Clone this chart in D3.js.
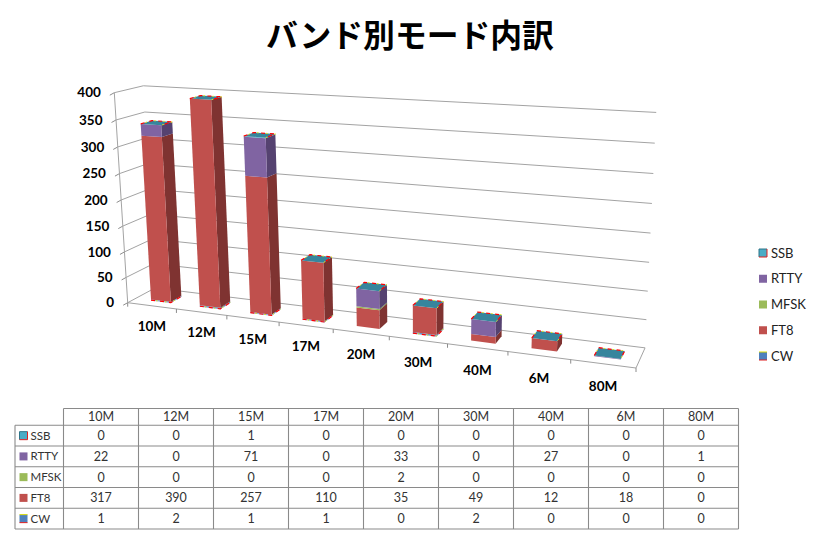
<!DOCTYPE html>
<html><head><meta charset="utf-8">
<script src="https://cdn.jsdelivr.net/npm/d3@7"></script>
<style>html,body{margin:0;padding:0;background:#fff}svg{display:block}text{font-family:Lato,"Noto Sans CJK JP",sans-serif}</style>
</head><body><svg id="c" width="818" height="544"></svg>
<script>
const titleText = "バンド別モード内訳";
const categories = ["10M","12M","15M","17M","20M","30M","40M","6M","80M"];
const seriesOrder = ["CW","FT8","MFSK","RTTY","SSB"];
const legendOrder = ["SSB","RTTY","MFSK","FT8","CW"];
const ssb  = [0,0,1,0,0,0,0,0,0];
const rtty = [22,0,71,0,33,0,27,0,1];
const mfsk = [0,0,0,0,2,0,0,0,0];
const ft8  = [317,390,257,110,35,49,12,18,0];
const cw   = [1,2,1,1,0,2,0,0,0];
const yTicks = [0,50,100,150,200,250,300,350,400];
const seriesValues = {SSB:ssb,RTTY:rtty,MFSK:mfsk,FT8:ft8,CW:cw};
const front = {SSB:"#4BACC6",RTTY:"#8064A2",MFSK:"#9BBB59",FT8:"#C0504D",CW:"#4F81BD"};
const side  = {SSB:"#2f7488",RTTY:"#554270",MFSK:"#6d8340",FT8:"#7F3331",CW:"#355a85"};
const topColor = "#37859d";

const svg = d3.select("#c");
const uScale = d3.scaleBand().domain(categories).range([0,1]);
const vScale = d3.scaleLinear().domain([0,400]).range([0,1]);

// perspective mapping of the chart box onto the page
const O=[127.7,302.7], U=[636,368], D=[155,288], V=[114.3,92.7];
const cu=-0.1516, cd=0.04, cv=-0.043;
const Au=[U[0]*(1+cu)-O[0],U[1]*(1+cu)-O[1]];
const Ad=[D[0]*(1+cd)-O[0],D[1]*(1+cd)-O[1]];
const Av=[V[0]*(1+cv)-O[0],V[1]*(1+cv)-O[1]];
function P(u,d,v){
  const w=1+cu*u+cd*d+cv*v;
  return [(O[0]+Au[0]*u+Ad[0]*d+Av[0]*v)/w,(O[1]+Au[1]*u+Ad[1]*d+Av[1]*v)/w];
}
const path=pts=>"M"+pts.map(p=>p[0].toFixed(2)+","+p[1].toFixed(2)).join("L")+"Z";
const lineP=(g,a,b,col,w)=>g.append("line").attr("x1",a[0]).attr("y1",a[1]).attr("x2",b[0]).attr("y2",b[1]).attr("stroke",col).attr("stroke-width",w||1);

// title
svg.append("text").attr("x",410).attr("y",47).attr("text-anchor","middle")
  .attr("font-size",31.8).attr("font-weight",700).attr("fill","#000")
  .style("font-family",'"Noto Sans CJK JP",sans-serif').text(titleText);

// walls and grid
const grid=svg.append("g");
const gc="#a3a3a3";
yTicks.forEach(t=>{
  const v=vScale(t);
  lineP(grid,P(0,0,v),P(0,1,v),gc);
  lineP(grid,P(0,1,v),P(1,1,v),gc);
  const a=P(0,0,v);
  lineP(grid,a,[a[0]-4.5,a[1]+2.5],"#8c8c8c");
  svg.append("text").attr("x",a[0]-13.5).attr("y",a[1]).attr("dy","0.35em")
    .attr("text-anchor","end").attr("font-size",13.5).attr("font-weight",700).attr("fill","#000").text(t);
});
lineP(grid,P(0,0,0),P(0,0,1),gc);
lineP(grid,P(0,0,0),P(1,0,0),gc);
lineP(grid,P(1,0,0),P(1,1,0),gc);
lineP(grid,P(0,0,0),[P(0,0,0)[0],P(0,0,0)[1]+4],"#8c8c8c");
categories.forEach((c,i)=>{
  const u=uScale(c)+uScale.bandwidth();
  const a=P(u,0,0);
  lineP(grid,a,[a[0],a[1]+4],"#8c8c8c");
  const m=P(uScale(c)+uScale.bandwidth()/2,0,0);
  svg.append("text").attr("x",m[0]).attr("y",m[1]+20+3*i/8).attr("dy","0.35em")
    .attr("text-anchor","middle").attr("font-size",13.5).attr("font-weight",700).attr("fill","#000").text(c);
});

// stacked bars
const rows=categories.map((c,i)=>{const r={cat:c};seriesOrder.forEach(s=>r[s]=seriesValues[s][i]);return r;});
const stacked=d3.stack().keys(seriesOrder)(rows);
const barFrac=0.41, d0=0.3, d1=0.7, uShift=0.002;
const bars=svg.append("g");
const edge=d3.line();
categories.forEach((c,i)=>{
  const uc=uScale(c)+uScale.bandwidth()/2+uShift, hw=uScale.bandwidth()*barFrac/2;
  const u0=uc-hw,u1=uc+hw;
  stacked.forEach(layer=>{
    const [a,b]=layer[i];
    if(b<=a) return;
    const v0=vScale(a),v1=vScale(b);
    bars.append("path").attr("d",path([P(u1,d0,v0),P(u1,d1,v0),P(u1,d1,v1),P(u1,d0,v1)])).attr("fill",side[layer.key]);
    bars.append("path").attr("d",path([P(u0,d0,v0),P(u1,d0,v0),P(u1,d0,v1),P(u0,d0,v1)])).attr("fill",front[layer.key]);
  });
  const tot=vScale(stacked[stacked.length-1][i][1]);
  const topF=[P(u0,d0,tot),P(u1,d0,tot),P(u1,d1,tot),P(u0,d1,tot)];
  // zero-height stack artefacts: broken coloured outlines at the top and the foot
  const backEdge=[P(u0,d0,tot),P(u0,d1,tot),P(u1,d1,tot),P(u1,d0,tot)];
  bars.append("path").attr("d",path(topF)).attr("fill",topColor);
  bars.append("path").attr("d",edge(backEdge)).attr("fill","none").attr("stroke","#ff0000").attr("stroke-width",1.2).attr("stroke-dasharray","4 5");
  bars.append("path").attr("d",edge(backEdge)).attr("fill","none").attr("stroke","#e8e800").attr("stroke-width",1).attr("stroke-dasharray","1.5 7.5").attr("stroke-dashoffset",-5);
  if(ft8[i]>0 && cw[i]>0){
    const foot=[P(u0,d0,0),P(u1,d0,0),P(u1,d1,0)];
    bars.append("path").attr("d",edge(foot)).attr("fill","none").attr("stroke","#8fb0e0").attr("stroke-width",1);
    bars.append("path").attr("d",edge(foot)).attr("fill","none").attr("stroke","#ff0000").attr("stroke-width",1.2).attr("stroke-dasharray","4 5");
    bars.append("path").attr("d",edge(foot)).attr("fill","none").attr("stroke","#e8e800").attr("stroke-width",1).attr("stroke-dasharray","1.5 7.5").attr("stroke-dashoffset",-5);
  }
});

// legend key helper
function key(g,x,y,s){
  g.append("rect").attr("x",x).attr("y",y-4).attr("width",8).attr("height",8).attr("fill",front[s]);
  if(s==="SSB"){
    g.append("path").attr("d",`M${x+8},${y-4}H${x}V${y+4}`).attr("fill","none").attr("stroke","#2f7488");
    g.append("path").attr("d",`M${x},${y+4}H${x+8}V${y-4}`).attr("fill","none").attr("stroke","#e02020");
  }
  if(s==="CW"){
    g.append("line").attr("x1",x).attr("x2",x+8).attr("y1",y-4).attr("y2",y-4).attr("stroke","#dcdc00");
    g.append("line").attr("x1",x).attr("x2",x+8).attr("y1",y+4).attr("y2",y+4).attr("stroke","#e02020");
  }
}

// legend
const legendY=d3.scalePoint().domain(legendOrder).range([253,356]);
const lg=svg.append("g");
legendOrder.forEach(s=>{
  key(lg,759,legendY(s),s);
  lg.append("text").attr("x",771).attr("y",legendY(s)).attr("dy","0.35em").attr("font-size",13).attr("fill","#222").text(s);
});

// data table
const colX=d3.scaleBand().domain(categories).range([63.5,738.5]);
const tb=svg.append("g");
const tc="#8a8a8a";
const yEdge=d3.scaleLinear().domain([0,5]).range([425.3,529]);
const cellY=r=>yEdge(r+0.5);
lineP(tb,[63.5,408.5],[738.5,408.5],tc,1.1);
d3.range(6).forEach(r=>lineP(tb,[15,yEdge(r)],[738.5,yEdge(r)],tc,1.1));
lineP(tb,[15,425.3],[15,529],tc,1.1);
d3.range(10).forEach(k=>{
  const x=63.5+k*colX.bandwidth();
  lineP(tb,[x,408.5],[x,529],tc,1.1);
});
categories.forEach(c=>{
  tb.append("text").attr("x",colX(c)+colX.bandwidth()/2).attr("y",417).attr("dy","0.35em")
    .attr("text-anchor","middle").attr("font-size",12.5).attr("fill","#333").text(c);
});
legendOrder.forEach((s,r)=>{
  key(tb,19.5,cellY(r),s);
  tb.append("text").attr("x",30.5).attr("y",cellY(r)).attr("dy","0.35em").attr("font-size",11.5).attr("fill","#333").text(s);
  categories.forEach((c,i)=>{
    tb.append("text").attr("x",colX(c)+colX.bandwidth()/2).attr("y",cellY(r)).attr("dy","0.35em")
      .attr("text-anchor","middle").attr("font-size",12.5).attr("fill","#333").text(seriesValues[s][i]);
  });
});
</script></body></html>
